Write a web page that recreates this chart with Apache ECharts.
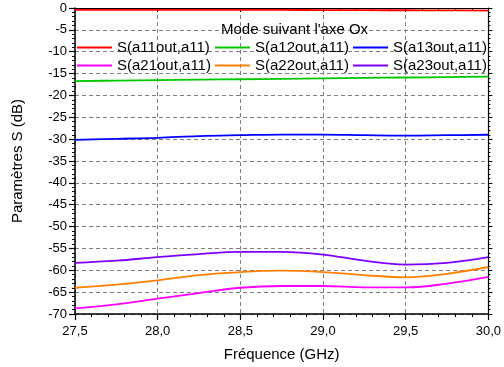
<!DOCTYPE html>
<html>
<head>
<meta charset="utf-8">
<script src="https://cdn.jsdelivr.net/npm/echarts@6/dist/echarts.min.js"></script>
<style>html,body{margin:0;padding:0;background:#fff}#c{width:504px;height:367px}</style>
</head>
<body>
<div id="c"></div>
<script>
var freq = [27.5, 27.75, 28.0, 28.25, 28.5, 28.75, 29.0, 29.25, 29.5, 29.75, 30.0];
var s11 = [-0.45, -0.45, -0.45, -0.45, -0.45, -0.45, -0.47, -0.5, -0.52, -0.55, -0.6];
var s12 = [-16.75, -16.6, -16.5, -16.4, -16.3, -16.2, -16.1, -16.0, -15.9, -15.8, -15.7];
var s13 = [-30.16, -29.93, -29.7, -29.3, -29.1, -28.95, -28.95, -29.1, -29.2, -29.1, -29.0];
var s21 = [-68.7, -67.8, -66.5, -65.2, -64.0, -63.6, -63.6, -63.9, -63.9, -63.05, -61.5];
var s22 = [-64.0, -63.3, -62.3, -61.1, -60.4, -60.1, -60.4, -61.1, -61.6, -60.8, -59.25];
var s23 = [-58.3, -57.8, -57.0, -56.3, -55.8, -55.8, -56.4, -57.8, -58.7, -58.3, -57.0];
var names = ['S(a11out,a11)', 'S(a12out,a11)', 'S(a13out,a11)', 'S(a21out,a11)', 'S(a22out,a11)', 'S(a23out,a11)'];
var colors = ['#ff0000', '#00c800', '#0000ff', '#ff00ff', '#ff8000', '#8000ff'];
var legendTitle = "Mode suivant l'axe Ox";
var xTitle = 'Fréquence (GHz)';
var yTitle = 'Paramètres S (dB)';

var allData = [s11, s12, s13, s21, s22, s23];
function pairs(arr) { return freq.map(function (f, i) { return [f, arr[i]]; }); }

var FONT = '"Liberation Sans", Arial, sans-serif';
var chart = echarts.init(document.getElementById('c'), null, {renderer: 'canvas'});
var series = allData.map(function (d, i) {
  return {
    name: names[i], type: 'line', data: pairs(d), smooth: 0.4, symbol: 'none',
    lineStyle: {color: colors[i], width: 1.8}, itemStyle: {color: colors[i]},
    xAxisIndex: 0, yAxisIndex: 0, z: 3
  };
});
var colLeft = [77, 215, 353];
var rowTop = [40, 58];
var legends = names.map(function (n, i) {
  return {
    left: colLeft[i % 3], top: rowTop[Math.floor(i / 3)],
    icon: 'rect', itemWidth: 35, itemHeight: 2, padding: 0,
    textStyle: {fontFamily: FONT, fontSize: 15, color: '#000'},
    selectedMode: false, data: [n]
  };
});
var option = {
  animation: false,
  backgroundColor: '#fff',
  title: {
    text: legendTitle, left: 221, top: 22, padding: 0,
    textStyle: {fontFamily: FONT, fontSize: 15, fontWeight: 'normal', color: '#000'}
  },
  legend: legends,
  grid: {left: 75, right: 12, top: 8, bottom: 51, show: false},
  xAxis: [{
    type: 'value', min: 27.5, max: 30, interval: 0.5, position: 'bottom',
    name: xTitle, nameLocation: 'middle', nameGap: 33,
    nameTextStyle: {fontFamily: FONT, fontSize: 15, color: '#000'},
    axisLine: {show: true, onZero: false, lineStyle: {color: '#000', width: 1.5}},
    axisTick: {show: true, inside: false, length: 6, lineStyle: {color: '#000', width: 1.2}},
    minorTick: {show: true, splitNumber: 5, length: 3, lineStyle: {color: '#000', width: 1}},
    axisLabel: {margin: 11, fontFamily: FONT, fontSize: 13, color: '#000',
      formatter: function (v) { return v.toFixed(1).replace('.', ','); }},
    splitLine: {show: true, lineStyle: {color: '#808080', type: [4, 3], width: 1}}
  }, {
    type: 'value', min: 27.5, max: 30, interval: 0.5, position: 'top',
    axisLine: {show: true, onZero: false, lineStyle: {color: '#000', width: 1.2}},
    axisTick: {show: true, inside: true, length: 4, lineStyle: {color: '#000'}},
    minorTick: {show: true, splitNumber: 5, length: 2, lineStyle: {color: '#000'}},
    axisLabel: {show: false}, splitLine: {show: false}
  }],
  yAxis: [{
    type: 'value', min: -70, max: 0, interval: 5, position: 'left',
    name: yTitle, nameLocation: 'middle', nameGap: 50,
    nameTextStyle: {fontFamily: FONT, fontSize: 15, color: '#000'},
    axisLine: {show: true, onZero: false, lineStyle: {color: '#000', width: 1.5}},
    axisTick: {show: true, inside: false, length: 6, lineStyle: {color: '#000', width: 1.2}},
    minorTick: {show: true, splitNumber: 5, length: 3, lineStyle: {color: '#000', width: 1}},
    axisLabel: {margin: 8, fontFamily: FONT, fontSize: 13, color: '#000'},
    splitLine: {show: true, lineStyle: {color: '#808080', type: [4, 3], width: 1}}
  }, {
    type: 'value', min: -70, max: 0, interval: 5, position: 'right',
    axisLine: {show: true, onZero: false, lineStyle: {color: '#000', width: 1.2}},
    axisTick: {show: true, inside: false, length: 4, lineStyle: {color: '#000'}},
    minorTick: {show: true, splitNumber: 5, length: 2, lineStyle: {color: '#000'}},
    axisLabel: {show: false}, splitLine: {show: false}
  }],
  series: series
};
chart.setOption(option);
</script>
</body>
</html>
